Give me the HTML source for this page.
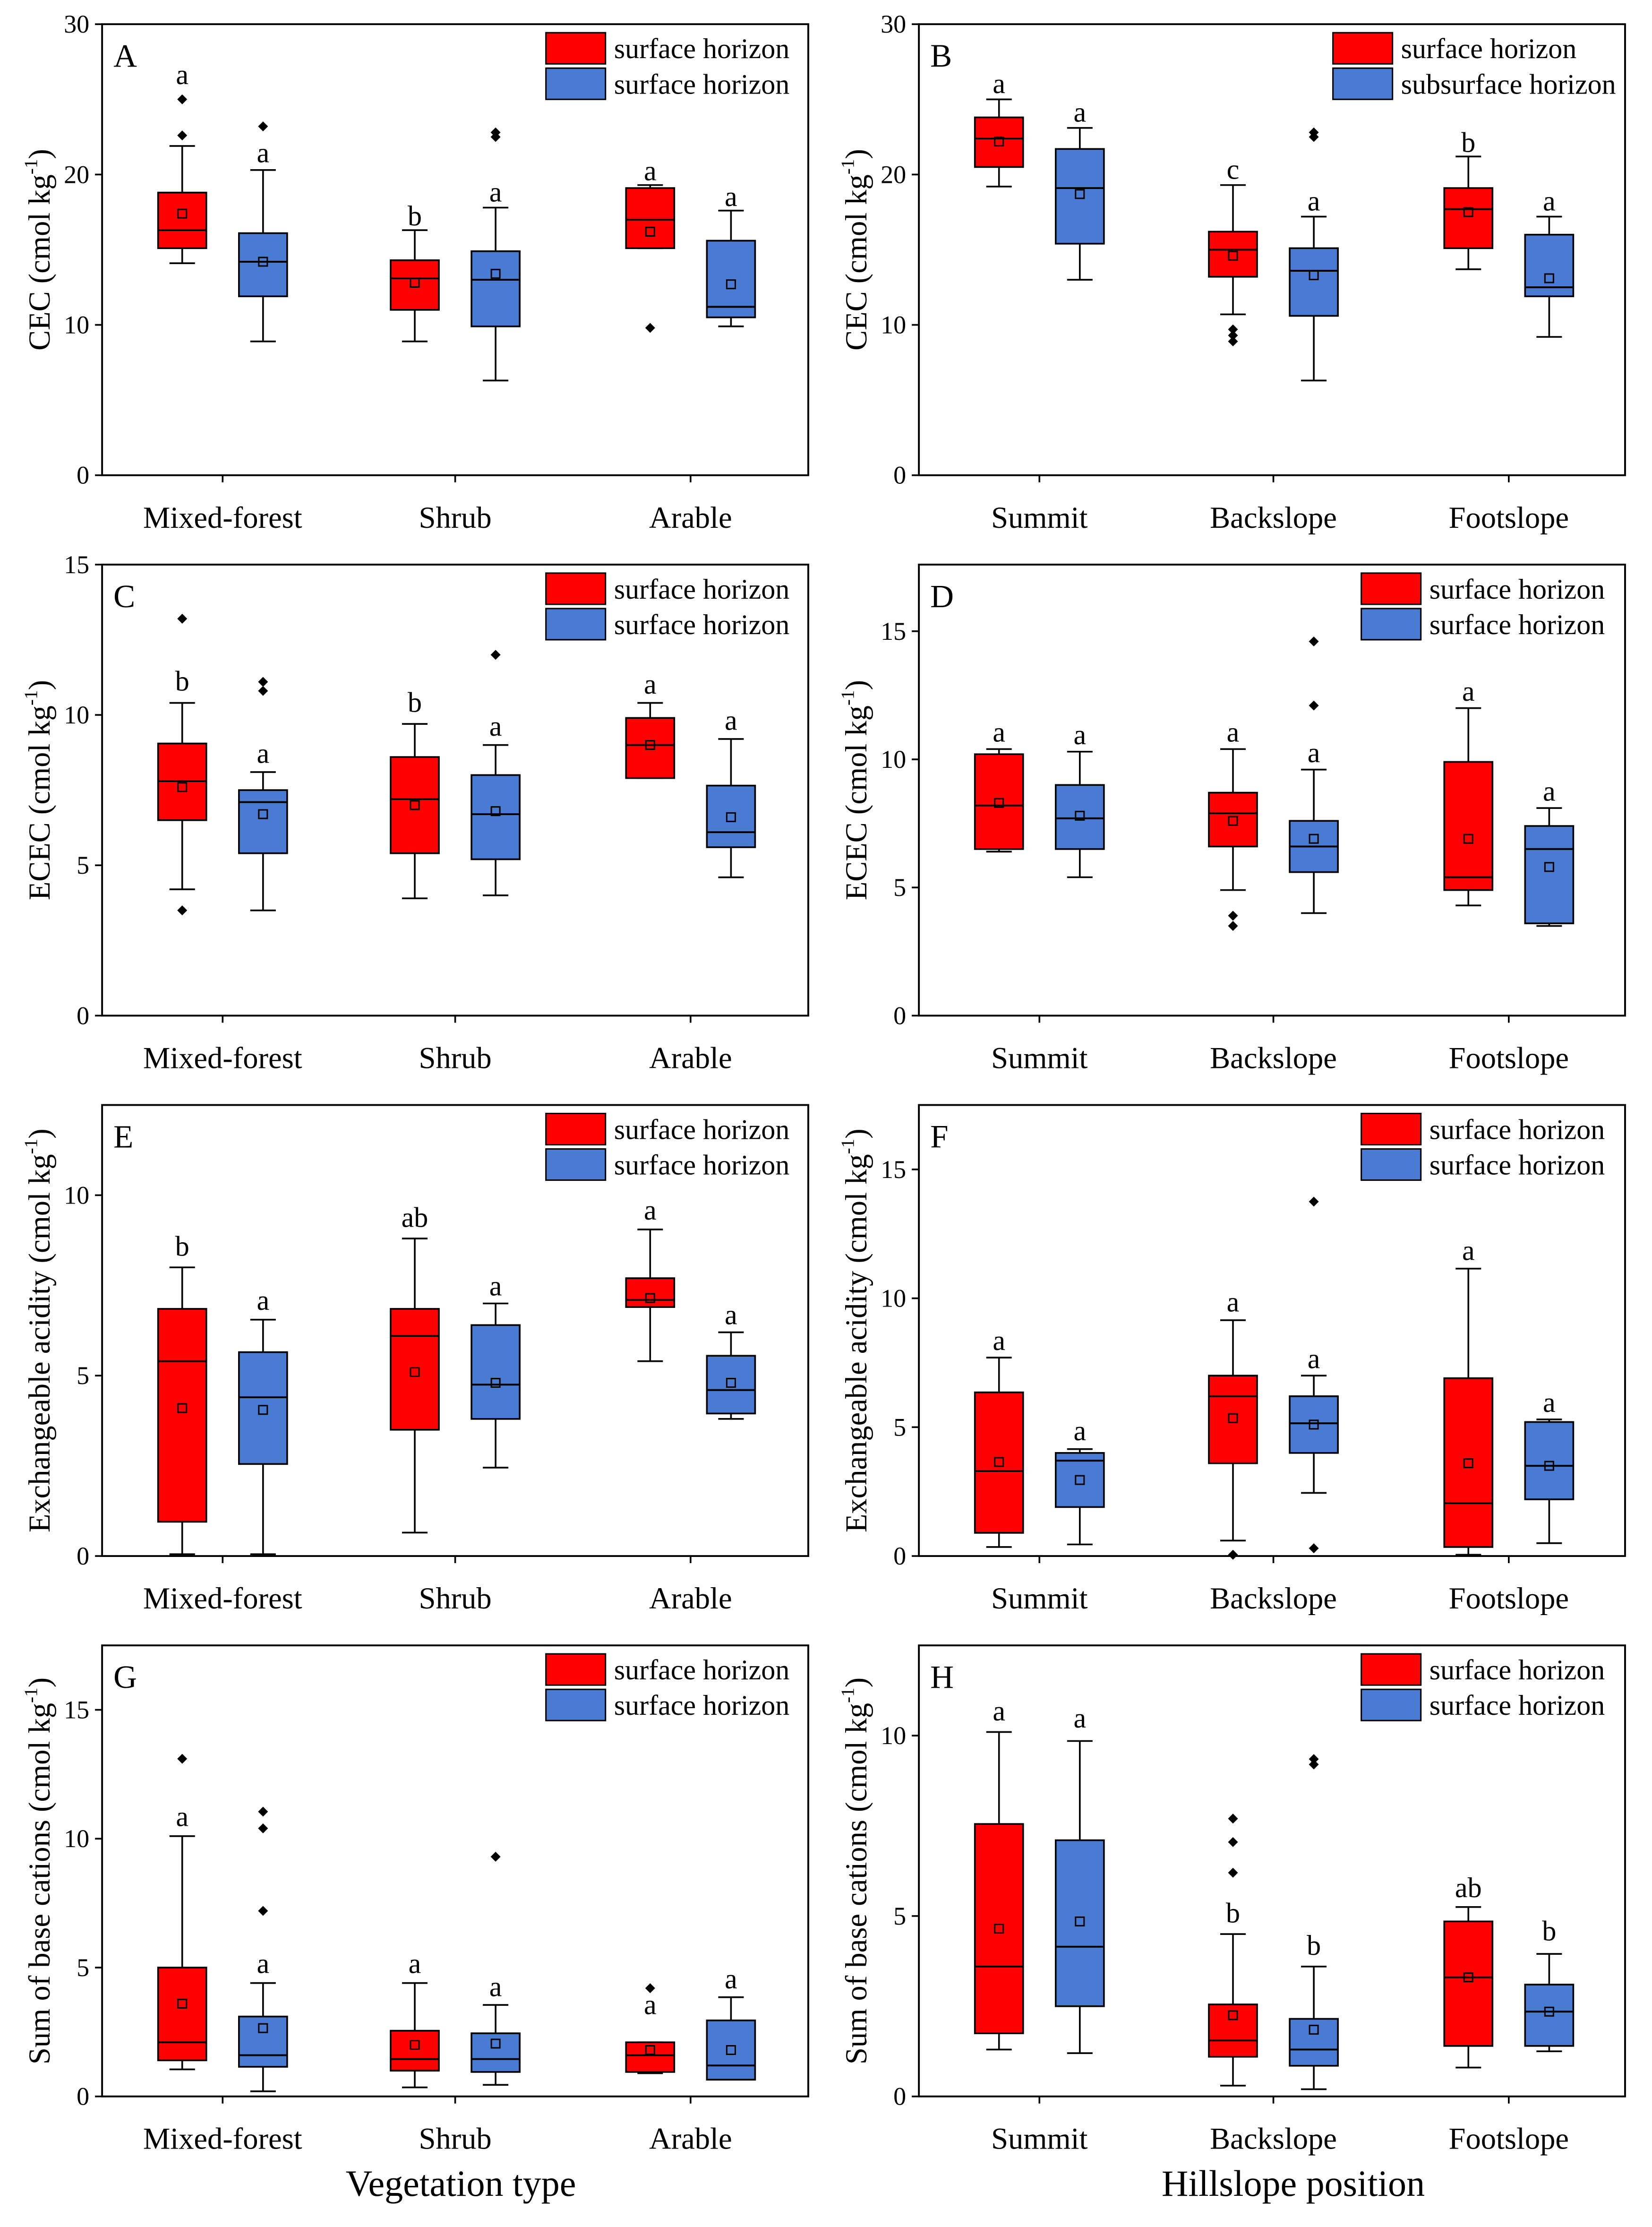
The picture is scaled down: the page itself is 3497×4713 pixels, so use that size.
<!DOCTYPE html>
<html><head><meta charset="utf-8"><style>
html,body{margin:0;padding:0;background:#fff}
svg{display:block}
text{font-family:"Liberation Serif",serif;fill:#000}
</style></head><body>
<svg id="fig" width="3497" height="4713" viewBox="0 0 1165 1570" xmlns="http://www.w3.org/2000/svg">
<rect width="1165" height="1570" fill="#fff"/>
<text x="325" y="1548" font-size="26" text-anchor="middle">Vegetation type</text>
<text x="912" y="1548" font-size="26" text-anchor="middle">Hillslope position</text>
</svg>
<script>
// ---- data ----
const catsLeft = ["Mixed-forest","Shrub","Arable"];
const catsRight = ["Summit","Backslope","Footslope"];
const panelLetters = ["A","B","C","D","E","F","G","H"];
const yTitles = ["CEC","CEC","ECEC","ECEC","Exchangeable acidity","Exchangeable acidity","Sum of base cations","Sum of base cations"];
const yMax = [30,30,15,17.6,12.5,17.5,17.5,12.5];
const yTicks = [[0,10,20,30],[0,10,20,30],[0,5,10,15],[0,5,10,15],[0,5,10],[0,5,10,15],[0,5,10,15],[0,5,10]];
const legendSecond = ["surface horizon","subsurface horizon","surface horizon","surface horizon","surface horizon","surface horizon","surface horizon","surface horizon"];
// each box: [low whisker, q1, median, q3, high whisker, mean]
const boxesA = [[14.1,15.1,16.3,18.8,21.9,17.4],[8.9,11.9,14.2,16.1,20.3,14.2],[8.9,11.0,13.1,14.3,16.3,12.8],[6.3,9.9,13.0,14.9,17.8,13.4],[15.1,15.1,17.0,19.1,19.3,16.2],[9.9,10.5,11.2,15.6,17.6,12.7]];
const boxesB = [[19.2,20.5,22.4,23.8,25.0,22.2],[13.0,15.4,19.1,21.7,23.1,18.7],[10.7,13.2,15.0,16.2,19.3,14.6],[6.3,10.6,13.6,15.1,17.2,13.3],[13.7,15.1,17.7,19.1,21.2,17.5],[9.2,11.9,12.5,16.0,17.2,13.1]];
const boxesC = [[4.2,6.5,7.8,9.05,10.4,7.6],[3.5,5.4,7.1,7.5,8.1,6.7],[3.9,5.4,7.2,8.6,9.7,7.0],[4.0,5.2,6.7,8.0,9.0,6.8],[7.9,7.9,9.0,9.9,10.4,9.0],[4.6,5.6,6.1,7.65,9.2,6.6]];
const boxesD = [[6.4,6.5,8.2,10.2,10.4,8.3],[5.4,6.5,7.7,9.0,10.3,7.8],[4.9,6.6,7.9,8.7,10.4,7.6],[4.0,5.6,6.6,7.6,9.6,6.9],[4.3,4.9,5.4,9.9,12.0,6.9],[3.5,3.6,6.5,7.4,8.1,5.8]];
const boxesE = [[0.05,0.95,5.4,6.85,8.0,4.1],[0.05,2.55,4.4,5.65,6.55,4.05],[0.65,3.5,6.1,6.85,8.8,5.1],[2.45,3.8,4.75,6.4,7.0,4.8],[5.4,6.9,7.1,7.7,9.05,7.15],[3.8,3.95,4.6,5.55,6.2,4.8]];
const boxesF = [[0.35,0.9,3.3,6.35,7.7,3.65],[0.45,1.9,3.7,4.0,4.15,2.95],[0.6,3.6,6.2,7.0,9.15,5.35],[2.45,4.0,5.15,6.2,7.0,5.1],[0.05,0.35,2.05,6.9,11.15,3.6],[0.5,2.2,3.5,5.2,5.3,3.5]];
const boxesG = [[1.05,1.4,2.1,5.0,10.1,3.6],[0.2,1.15,1.6,3.1,4.4,2.65],[0.35,1.0,1.45,2.55,4.4,2.0],[0.45,0.95,1.45,2.45,3.55,2.05],[0.9,0.95,1.6,2.1,2.1,1.8],[0.65,0.65,1.2,2.95,3.85,1.8]];
const boxesH = [[1.3,1.75,3.6,7.55,10.1,4.65],[1.2,2.5,4.15,7.1,9.85,4.85],[0.3,1.1,1.55,2.55,4.5,2.25],[0.2,0.85,1.3,2.15,3.6,1.85],[0.8,1.4,3.3,4.85,5.25,3.3],[1.25,1.4,2.35,3.1,3.95,2.35]];
const outliersA = [[22.6,25],[23.2],[],[22.8,22.5],[9.8],[]];
const outliersB = [[],[],[9.7,9.3,8.9],[22.8,22.5],[],[]];
const outliersC = [[13.2,3.5],[11.1,10.8],[],[12.0],[],[]];
const outliersD = [[],[],[3.9,3.5],[14.6,12.1],[],[]];
const outliersE = [[],[],[],[],[],[]];
const outliersF = [[],[],[0.05],[13.75,0.3],[],[]];
const outliersG = [[13.1],[11.05,10.4,7.2],[],[9.3],[4.2],[]];
const outliersH = [[],[],[7.7,7.05,6.2],[9.35,9.2],[],[]];
const lettersA = ["a","a","b","a","a","a"], letterValA = [26.2,21.0,16.8,18.4,19.8,18.1];
const lettersB = ["a","a","c","a","b","a"], letterValB = [25.6,23.7,19.9,17.8,21.7,17.8];
const lettersC = ["b","a","b","a","a","a"], letterValC = [10.9,8.5,10.2,9.4,10.8,9.6];
const lettersD = ["a","a","a","a","a","a"], letterValD = [10.8,10.7,10.8,10.0,12.4,8.5];
const lettersE = ["b","a","ab","a","a","a"], letterValE = [8.4,6.9,9.2,7.3,9.4,6.5];
const lettersF = ["a","a","a","a","a","a"], letterValF = [8.1,4.6,9.6,7.4,11.6,5.7];
const lettersG = ["a","a","a","a","a","a"], letterValG = [10.6,4.9,4.9,4.0,3.3,4.3];
const lettersH = ["a","a","b","b","ab","b"], letterValH = [10.5,10.3,4.9,4.0,5.6,4.4];
const allBoxes=[boxesA,boxesB,boxesC,boxesD,boxesE,boxesF,boxesG,boxesH];
const allOut=[outliersA,outliersB,outliersC,outliersD,outliersE,outliersF,outliersG,outliersH];
const allLet=[lettersA,lettersB,lettersC,lettersD,lettersE,lettersF,lettersG,lettersH];
const allLetV=[letterValA,letterValB,letterValC,letterValD,letterValE,letterValF,letterValG,letterValH];

// ---- drawing ----
const NS="http://www.w3.org/2000/svg";
const svg=document.getElementById('fig');
function mk(tag,attrs,parent){const e=document.createElementNS(NS,tag);for(const k in attrs)e.setAttribute(k,attrs[k]);(parent||svg).appendChild(e);return e;}
const RED="#ff0000", BLUE="#4a7bd2";
const rowsTop=[17,398,779,1160], H=318;
const colsLeft=[72,648], W=498;
const boxW=34;
for(let p=0;p<8;p++){
  const col=p%2,row=Math.floor(p/2);
  const x0=colsLeft[col], y0=rowsTop[row], y1=y0+H;
  const g=mk('g',{});
  
  
  const ys=v=>y1-v/yMax[p]*H;
  const centers = col===0 ? [157,321,487] : [733,898,1064];
  const cats = col===0 ? catsLeft : catsRight;
  const fr=mk('rect',{x:x0,y:y0,width:W,height:H,fill:'none',stroke:'#000','stroke-width':1.3},g);
  
  
  yTicks[p].forEach(t=>{
    const y=ys(t);
    mk('line',{x1:x0-5,x2:x0,y1:y,y2:y,stroke:'#000','stroke-width':1.2},g);
    const tl=mk('text',{x:x0-9,y:y+6,'font-size':18,'text-anchor':'end'},g);
    tl.textContent=t;
    
    
  });
  const yt=mk('text',{transform:`translate(${x0-37},${y0+H/2}) rotate(-90)`,'font-size':21.5,'text-anchor':'middle'},g);
  
  
  yt.appendChild(document.createTextNode(yTitles[p]+' (cmol kg'));
  const sup=mk('tspan',{'font-size':13,dy:-9},yt); sup.textContent='-1';
  const cl=mk('tspan',{dy:9},yt); cl.textContent=')';
  cats.forEach((c,i)=>{
    mk('line',{x1:centers[i],x2:centers[i],y1:y1,y2:y1+5,stroke:'#000','stroke-width':1.2},g);
    const t=mk('text',{x:centers[i],y:y1+37,'font-size':21.5,'text-anchor':'middle'},g);
    t.textContent=c;
    
    
  });
  const pl=mk('text',{x:x0+8,y:y0+30,'font-size':23},g);
  pl.textContent=panelLetters[p];
  
  
  allBoxes[p].forEach((b,i)=>{
    const cx=centers[Math.floor(i/2)]+(i%2===0?-28.5:28.5);
    const bg=mk('g',{},g);
    
    
    const [lo,q1,md,q3,hi,mn]=b;
    mk('line',{x1:cx,x2:cx,y1:ys(hi),y2:ys(q3),stroke:'#000','stroke-width':1.2},bg);
    mk('line',{x1:cx,x2:cx,y1:ys(q1),y2:ys(lo),stroke:'#000','stroke-width':1.2},bg);
    mk('line',{x1:cx-9,x2:cx+9,y1:ys(hi),y2:ys(hi),stroke:'#000','stroke-width':1.2},bg);
    mk('line',{x1:cx-9,x2:cx+9,y1:ys(lo),y2:ys(lo),stroke:'#000','stroke-width':1.2},bg);
    mk('rect',{x:cx-boxW/2,y:ys(q3),width:boxW,height:Math.max(0.5,ys(q1)-ys(q3)),fill:i%2===0?RED:BLUE,stroke:'#000','stroke-width':1.2},bg);
    mk('line',{x1:cx-boxW/2,x2:cx+boxW/2,y1:ys(md),y2:ys(md),stroke:'#000','stroke-width':1.3},bg);
    mk('rect',{x:cx-3,y:ys(mn)-3,width:6,height:6,fill:'none',stroke:'#000','stroke-width':1},bg);
    allOut[p][i].forEach(o=>{
      const y=ys(o);
      mk('polygon',{points:`${cx},${y-3.5} ${cx+3.5},${y} ${cx},${y+3.5} ${cx-3.5},${y}`,fill:'#000'},bg);
    });
    const lt=mk('text',{x:cx,y:ys(allLetV[p][i])+2,'font-size':20,'text-anchor':'middle'},bg);
    lt.textContent=allLet[p][i];
  });
  const lx = col===0 ? 385 : (p===1?940:960);
  const lg=mk('g',{},g);
  
  
  [["surface horizon",RED],[legendSecond[p],BLUE]].forEach((e,k)=>{
    const yy=y0+6+k*25;
    mk('rect',{x:lx,y:yy,width:42,height:22,fill:e[1],stroke:'#000','stroke-width':1},lg);
    const t=mk('text',{x:lx+48,y:yy+18,'font-size':20},lg);
    t.textContent=e[0];
  });
}
</script>
</body></html>
